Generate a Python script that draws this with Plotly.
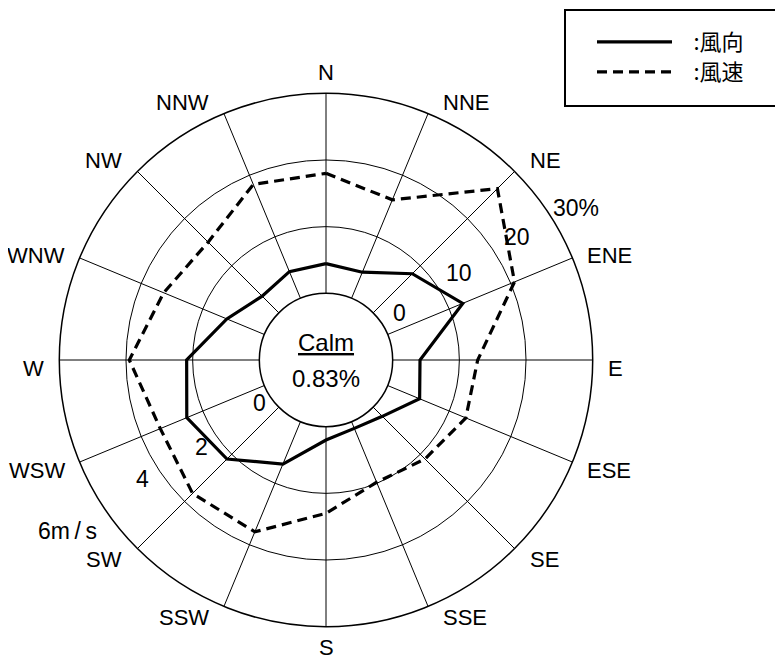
import math
import plotly.graph_objects as go

# ---- data ----
directions = ["N", "NNE", "NE", "ENE", "E", "ESE", "SE", "SSE",
              "S", "SSW", "SW", "WSW", "W", "WNW", "NW", "NNW"]
freq_pct = [4.45, 4.25, 8.3, 12.2, 4.1, 5.2, 1.95, 1.1,
            2.0, 6.9, 11.0, 12.6, 10.9, 6.1, 3.55, 4.35]
speed_ms = [3.6, 3.2, 5.27, 4.12, 2.55, 2.54, 2.2, 1.97,
            2.6, 3.58, 3.66, 3.38, 3.9, 3.27, 3.0, 3.7]
calm_pct = 0.83

pct_ticks = [0, 10, 20, 30]
pct_tick_text = ["0", "10", "20", "30%"]
speed_ticks = [0, 2, 4, 6]
speed_tick_text = ["0", "2", "4", "6m\u2009/\u2009s"]

legend_names = ["\u2002\u2005:風向", "\u2002\u2005:風速"]

# ---- geometry / style (page has an 8px body margin) ----
OFF = 8
W, H = 783 - OFF, 659 - OFF
cx, cy, R = 326.0 - OFF, 360.0 - OFF, 266.7
hole = 0.25
dom_x = [(cx - R) / W, (cx + R) / W]
dom_y = [(H - (cy + R)) / H, (H - (cy - R)) / H]

step = 360.0 / len(directions)
theta = [i * step for i in range(len(directions))]
theta_closed = theta + [theta[0]]

FONT = "Liberation Sans, Arial, sans-serif"
CJK = "Noto Sans CJK JP, sans-serif"
LABEL_SIZE = 22
SCALE_SIZE = 23


def px_to_paper(x, y):
    return x / W, 1 - y / H


def scale_pos(value, vmax, bearing):
    """paper position of a radial-scale value (vmax maps to outer ring)."""
    rpx = R * hole + (R - R * hole) * value / vmax
    b = math.radians(bearing)
    return px_to_paper(cx + rpx * math.sin(b), cy - rpx * math.cos(b))


fig = go.Figure()

fig.add_trace(go.Scatterpolar(
    r=freq_pct + [freq_pct[0]], theta=theta_closed, mode="lines",
    line=dict(color="black", width=3.2), name=legend_names[0],
    subplot="polar", legend="legend"))

fig.add_trace(go.Scatterpolar(
    r=speed_ms + [speed_ms[0]], theta=theta_closed, mode="lines",
    line=dict(color="black", width=3.2, dash="10px,6px"), name=legend_names[1],
    subplot="polar2", legend="legend2"))

annotations = []

# direction labels just outside the outer ring
for name, b_deg in zip(directions, theta):
    b = math.radians(b_deg)
    s, c = math.sin(b), math.cos(b)
    ex, ey = cx + R * s, cy - R * c
    if abs(s) < 0.2:
        xa, x = "center", ex
        y = ey - 20.5 if c > 0 else ey + 21
    else:
        xa = "left" if s > 0 else "right"
        x = ex + (13 if s > 0 else -13)
        if c > 0.5:
            y = ey - 11
        elif c > 0.2:
            y = ey - 2
        elif c >= -0.5:
            y = ey + 8
        else:
            y = ey + 11
    px, py = px_to_paper(x, y)
    annotations.append(dict(xref="paper", yref="paper", x=px, y=py, text=name,
                            xanchor=xa, yanchor="middle", showarrow=False,
                            font=dict(family=FONT, size=LABEL_SIZE)))

# scale labels: percent along ~57 deg, speed along ~236 deg (offset outward)
pct_label_at = [3.12, 13.8, 24.05, 33.85]
pct_label_bearing = [57.7, 56.7, 57.1, 58.75]
spd_label_at = [0.375, 2.55, 4.56, 7.3]
spd_label_bearing = [237.4, 234.9, 237.0, 236.6]

for txt, v, b in zip(pct_tick_text, pct_label_at, pct_label_bearing):
    x, y = scale_pos(v, 30, b)
    annotations.append(dict(xref="paper", yref="paper", x=x, y=y, text=txt,
                            xanchor="center", yanchor="middle", showarrow=False,
                            font=dict(family=FONT, size=SCALE_SIZE)))
for txt, v, b in zip(speed_tick_text, spd_label_at, spd_label_bearing):
    x, y = scale_pos(v, 6, b)
    annotations.append(dict(xref="paper", yref="paper", x=x, y=y, text=txt,
                            xanchor="center", yanchor="middle", showarrow=False,
                            font=dict(family=FONT, size=SCALE_SIZE)))

annotations += [
    dict(xref="paper", yref="paper", x=cx / W, y=1 - (cy - 17) / H,
         text="<u>Calm</u>", showarrow=False, xanchor="center", yanchor="middle",
         font=dict(family=FONT, size=24, color="black")),
    dict(xref="paper", yref="paper", x=cx / W, y=1 - (cy + 18) / H,
         text=f"{calm_pct:.2f}%", showarrow=False, xanchor="center", yanchor="middle",
         font=dict(family=FONT, size=24, color="black")),
]

legend_style = dict(xanchor="left", yanchor="top", bgcolor="rgba(0,0,0,0)",
                    borderwidth=0, itemwidth=75,
                    font=dict(family=CJK, size=22, color="black"))

fig.update_layout(
    width=W, height=H,
    margin=dict(l=0, r=0, t=0, b=0),
    paper_bgcolor="white",
    font=dict(family=FONT, size=22, color="black"),
    showlegend=True,
    polar=dict(
        domain=dict(x=dom_x, y=dom_y),
        hole=hole,
        bgcolor="white",
        radialaxis=dict(range=[0, 30], tickvals=pct_ticks, showticklabels=False,
                        ticks="", showline=False, gridcolor="black", gridwidth=1),
        angularaxis=dict(rotation=90, direction="clockwise",
                         tickvals=theta, ticktext=directions, showticklabels=False,
                         ticks="", showline=True, linecolor="black", linewidth=1.5,
                         gridcolor="black", gridwidth=1),
    ),
    polar2=dict(
        domain=dict(x=dom_x, y=dom_y),
        hole=hole,
        bgcolor="rgba(0,0,0,0)",
        radialaxis=dict(range=[0, 6], visible=False),
        angularaxis=dict(rotation=90, direction="clockwise", visible=False),
    ),
    legend=dict(x=584 / W, y=1 - 13 / H, **legend_style),
    legend2=dict(x=584 / W, y=1 - 43 / H, **legend_style),
    shapes=[dict(type="rect", xref="paper", yref="paper",
                 x0=557 / W, x1=773 / W, y0=1 - 98 / H, y1=1 - 2 / H,
                 line=dict(color="black", width=2), fillcolor="rgba(0,0,0,0)")],
    annotations=annotations,
)

fig.write_html("out.html")
